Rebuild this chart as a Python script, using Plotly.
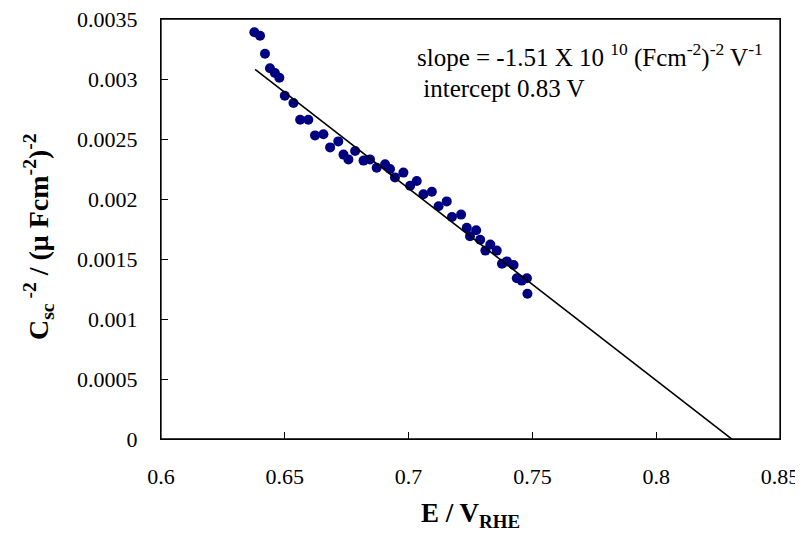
import plotly.graph_objects as go

# Measured data (E vs V_RHE, Csc^-2 in (uF cm^-2)^-2)
E_vals = [0.6377, 0.6400, 0.6420, 0.6440, 0.6460, 0.6478, 0.6500, 0.6535, 0.6562, 0.6595,
          0.6622, 0.6656, 0.6683, 0.6716, 0.6737, 0.6757, 0.6784, 0.6818, 0.6844, 0.6871,
          0.6905, 0.6925, 0.6945, 0.6979, 0.7006, 0.7033, 0.7060, 0.7094, 0.7121, 0.7154,
          0.7175, 0.7212, 0.7235, 0.7248, 0.7273, 0.7289, 0.7310, 0.7330, 0.7356, 0.7377,
          0.7397, 0.7424, 0.7437, 0.7457, 0.7478, 0.7480]
Csc2_vals = [0.00339, 0.00336, 0.00321, 0.00309, 0.00305, 0.00301, 0.00286, 0.00280, 0.00266, 0.00266,
             0.00253, 0.00254, 0.00243, 0.00248, 0.00237, 0.00233, 0.00240, 0.00232, 0.00233, 0.00226,
             0.00229, 0.00225, 0.00218, 0.00222, 0.00211, 0.00215, 0.00204, 0.00206, 0.00194, 0.00198,
             0.00185, 0.00187, 0.00176, 0.00169, 0.00174, 0.00166, 0.00157, 0.00162, 0.00157, 0.00146,
             0.00148, 0.00145, 0.00134, 0.00132, 0.00134, 0.00121]

# Linear fit (Mott-Schottky)
fit_slope = -0.0160
fit_x0 = 0.8305
fit_x = [0.638, 0.833]
fit_y = [fit_slope * (x - fit_x0) for x in fit_x]

x_ticks = [0.6, 0.65, 0.7, 0.75, 0.8, 0.85]
x_tick_text = ["0.6", "0.65", "0.7", "0.75", "0.8", "0.85"]
y_ticks = [0, 0.0005, 0.001, 0.0015, 0.002, 0.0025, 0.003, 0.0035]
y_tick_text = ["0", "0.0005", "0.001", "0.0015", "0.002", "0.0025", "0.003", "0.0035"]

FONT = "Liberation Serif, Times New Roman, serif"

fig = go.Figure()
fig.add_trace(go.Scatter(x=E_vals, y=Csc2_vals, mode="markers",
                         marker=dict(color="#000080", size=10, line=dict(width=0)),
                         showlegend=False))
fig.add_trace(go.Scatter(x=fit_x, y=fit_y, mode="lines",
                         line=dict(color="black", width=1.6), showlegend=False))

fig.update_layout(
    width=795, height=524,
    margin=dict(l=153, r=23, t=11, b=93),
    paper_bgcolor="white", plot_bgcolor="white",
    font=dict(family=FONT, size=22, color="black"),
    xaxis=dict(range=[0.6, 0.85], tickvals=x_ticks, ticktext=x_tick_text,
               ticks="inside", ticklen=7, tickcolor="black", tickwidth=1.2,
               showline=True, linecolor="black", linewidth=1.3, mirror=True,
               showgrid=False, zeroline=False, ticklabelstandoff=17, automargin=False,
               ticklabeloverflow="allow", tickfont=dict(size=22),
               title=dict(text="<b>E / V<sub>RHE</sub></b>", font=dict(size=27), standoff=27)),
    yaxis=dict(range=[0, 0.0035], tickvals=y_ticks, ticktext=y_tick_text,
               ticks="inside", ticklen=7, tickcolor="black", tickwidth=1.2,
               showline=True, linecolor="black", linewidth=1.3, mirror=True,
               showgrid=False, zeroline=False, ticklabelstandoff=18, automargin=False,
               ticklabeloverflow="allow", tickfont=dict(size=22)),
    shapes=[dict(type="rect", xref="paper", yref="paper", x0=0, x1=1, y0=0, y1=1,
                 line=dict(color="black", width=1.3), fillcolor="rgba(0,0,0,0)", layer="above")],
    annotations=[
        dict(x=-0.197, y=0.481, xref="paper", yref="paper", xanchor="center", yanchor="middle",
             showarrow=False, textangle=-90, font=dict(size=28),
             text="<b>C<sub>sc</sub><sup> -2</sup> / (μ Fcm<sup>-2</sup>)<sup>-2</sup></b>"),
        dict(x=0.7025, y=0.003195, xref="x", yref="y", xanchor="left", yanchor="middle",
             showarrow=False, font=dict(size=25),
             text="slope = -1.51 X 10 <sup>10</sup> (Fcm<sup>-2</sup>)<sup>-2</sup> V<sup>-1</sup>"),
        dict(x=0.7025, y=0.002917, xref="x", yref="y", xanchor="left", yanchor="middle",
             showarrow=False, font=dict(size=25),
             text=" intercept 0.83 V"),
    ],
)

fig.write_html("out.html")
